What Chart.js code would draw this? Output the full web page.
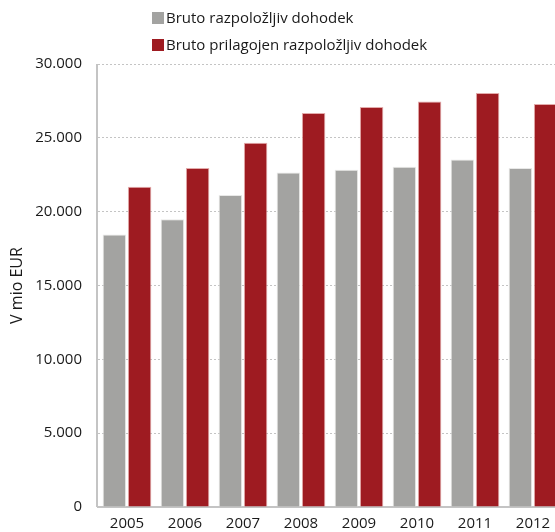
<!DOCTYPE html>
<html>
<head>
<meta charset="utf-8">
<script src="https://cdn.jsdelivr.net/npm/chart.js@4/dist/chart.umd.min.js"></script>
<style>
  html, body { margin: 0; padding: 0; background: #fff; overflow: hidden; }
  #wrap { position: relative; width: 562px; height: 532px; }
  #legend { position: absolute; left: 152px; top: 6px; font-family: 'Open Sans', sans-serif; font-size: 15px; color: #1a1a1a; }
  #legend div { height: 27px; line-height: 22px; white-space: nowrap; }
  #legend span.box { display: inline-block; width: 12px; height: 12px; margin-right: 2px; vertical-align: -1px; }
</style>
</head>
<body>
<div id="wrap">
  <canvas id="chart" width="562" height="532"></canvas>
  <div id="legend"></div>
</div>
<script>
(function () {
  'use strict';

  const years = ['2005', '2006', '2007', '2008', '2009', '2010', '2011', '2012'];
  const brutoRazpolozljiv = [18460, 19490, 21130, 22660, 22840, 23040, 23530, 22950];
  const brutoPrilagojen = [21690, 22950, 24660, 26680, 27090, 27460, 28030, 27290];
  const seriesNames = ['Bruto razpoložljiv dohodek', 'Bruto prilagojen razpoložljiv dohodek'];
  const seriesColors = ['#a3a3a1', '#9e1b21'];

  const legend = document.getElementById('legend');
  seriesNames.forEach(function (name, i) {
    const row = document.createElement('div');
    row.innerHTML = '<span class="box" style="background:' + seriesColors[i] + '"></span>' + name;
    legend.appendChild(row);
  });

  const fmt = function (v) {
    return v.toString().replace(/\B(?=(\d{3})+(?!\d))/g, '.');
  };

  // solid left axis line (grid lines stay dotted)
  const axisLine = {
    id: 'axisLine',
    afterDatasetsDraw: function (chart) {
      const a = chart.chartArea;
      const c = chart.ctx;
      c.save();
      c.strokeStyle = '#c4c4c4';
      c.lineWidth = 2;
      c.beginPath();
      c.moveTo(a.left - 1, a.top);
      c.lineTo(a.left - 1, a.bottom);
      c.stroke();
      c.restore();
    },
  };

  const ctx = document.getElementById('chart').getContext('2d');
  const myChart = new Chart(ctx, {
    type: 'bar',
    data: {
      labels: years,
      datasets: [
        {
          label: seriesNames[0],
          data: brutoRazpolozljiv,
          backgroundColor: seriesColors[0],
          borderColor: 'rgba(230, 230, 228, 0.9)',
          borderWidth: 1,
          barPercentage: 0.93,
          categoryPercentage: 0.87,
        },
        {
          label: seriesNames[1],
          data: brutoPrilagojen,
          backgroundColor: seriesColors[1],
          borderColor: 'rgba(220, 150, 150, 0.8)',
          borderWidth: 1,
          barPercentage: 0.93,
          categoryPercentage: 0.87,
        },
      ],
    },
    options: {
      responsive: false,
      animation: false,
      maintainAspectRatio: false,
      layout: { padding: { top: 64, right: 0, left: 0, bottom: 0 } },
      plugins: {
        legend: { display: false },
        tooltip: { enabled: false },
      },
      scales: {
        x: {
          ticks: {
            font: { family: 'Open Sans', size: 15 },
            color: '#1a1a1a',
            padding: 0,
          },
          grid: { display: false },
          border: { color: '#c4c4c4', width: 2 },
          afterFit: function (scale) { scale.height = 21; },
        },
        y: {
          min: 0,
          max: 30000,
          ticks: {
            stepSize: 5000,
            font: { family: 'Open Sans', size: 15 },
            color: '#1a1a1a',
            padding: 16,
            callback: function (v) { return fmt(v); },
          },
          title: {
            display: true,
            text: 'V mio EUR',
            font: { family: 'Open Sans', size: 16 },
            color: '#1a1a1a',
            padding: { top: 8, bottom: 0 },
          },
          grid: {
            color: '#c4c4c4',
            drawTicks: false,
            tickLength: 0,
          },
          border: { display: false, dash: [2, 2] },
          afterFit: function (scale) { scale.width = 98; },
        },
      },
    },
    plugins: [axisLine],
  });
})();
</script>
</body>
</html>
